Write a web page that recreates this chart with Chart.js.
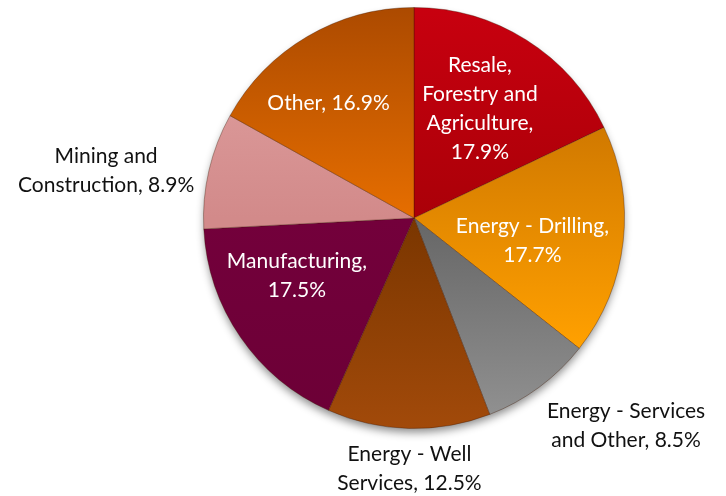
<!DOCTYPE html>
<html>
<head>
<meta charset="utf-8">
<script src="https://cdn.jsdelivr.net/npm/chart.js@4/dist/chart.umd.min.js"></script>
<style>
  html, body { margin: 0; padding: 0; background: #ffffff; }
  #wrap { width: 726px; height: 496px; position: relative; }
</style>
</head>
<body>
<div id="wrap"><canvas id="c" width="726" height="496"></canvas></div>
<script>
// ---- data ----
const categories = [
  "Resale, Forestry and Agriculture",
  "Energy - Drilling",
  "Energy - Services and Other",
  "Energy - Well Services",
  "Manufacturing",
  "Mining and Construction",
  "Other"
];
const shares = [17.9, 17.7, 8.5, 12.5, 17.5, 8.9, 16.9];
const labelLines = [
  ["Resale,", "Forestry and", "Agriculture,", "17.9%"],
  ["Energy - Drilling,", "17.7%"],
  ["Energy - Services", "and Other, 8.5%"],
  ["Energy - Well", "Services, 12.5%"],
  ["Manufacturing,", "17.5%"],
  ["Mining and", "Construction, 8.9%"],
  ["Other, 16.9%"]
];

// ---- styles ----
const gradStops = [
  [[0, "#c8000f"], [0.5, "#aa0008"], [1, "#9a0006"]],
  [[0, "#b86400"], [0.3, "#d27a00"], [0.8, "#ffa000"], [1, "#ffa808"]],
  [[0, "#555555"], [0.5, "#666666"], [1, "#939393"]],
  [[0, "#603000"], [0.5, "#7a3600"], [1, "#a24a0a"]],
  [[0, "#7a0040"], [1, "#6c0036"]],
  [[0, "#e2a4a4"], [0.5, "#d28a8a"], [1, "#d28a8a"]],
  [[0, "#ac4a00"], [0.5, "#e66e00"], [1, "#f27a00"]]
];
const labelPlace = [ // [radius factor, angle shift in degrees]
  [0.607, -1.2], [0.573, 4.6], [1.41, -9.2], [1.19, -0.4],
  [0.62, 8.3], [1.48, -4.3], [0.68, -6.2]
];
const labelInside = [true, true, false, false, true, false, true];
const lineHeight = 29;

function sliceColor(ctx) {
  const chart = ctx.chart;
  const area = chart.chartArea;
  const stops = gradStops[ctx.dataIndex];
  if (!area) return stops[0][1];
  const g = chart.ctx.createLinearGradient(0, area.top, 0, area.bottom);
  stops.forEach(s => g.addColorStop(s[0], s[1]));
  return g;
}

const shadowPlugin = {
  id: "pieShadow",
  beforeDatasetsDraw(chart) {
    const arc = chart.getDatasetMeta(0).data[0];
    if (!arc) return;
    const ctx = chart.ctx;
    ctx.save();
    ctx.shadowColor = "rgba(0,0,0,0.45)";
    ctx.shadowBlur = 8;
    ctx.shadowOffsetY = 5;
    ctx.shadowOffsetX = 0;
    ctx.fillStyle = "#ffffff";
    ctx.beginPath();
    ctx.arc(arc.x, arc.y, arc.outerRadius - 1, 0, Math.PI * 2);
    ctx.fill();
    ctx.restore();
  }
};

const labelPlugin = {
  id: "sliceLabels",
  afterDatasetsDraw(chart) {
    const meta = chart.getDatasetMeta(0);
    const ctx = chart.ctx;
    ctx.save();
    ctx.font = "21px Lato";
    ctx.textAlign = "center";
    ctx.textBaseline = "middle";
    meta.data.forEach((arc, i) => {
      const mid = (arc.startAngle + arc.endAngle) / 2 + labelPlace[i][1] * Math.PI / 180;
      const r = arc.outerRadius * labelPlace[i][0];
      const cx = arc.x + Math.cos(mid) * r;
      const cy = arc.y + Math.sin(mid) * r;
      const lines = labelLines[i];
      ctx.fillStyle = labelInside[i] ? "#ffffff" : "#111111";
      lines.forEach((t, k) => {
        const y = cy + (k - (lines.length - 1) / 2) * lineHeight;
        ctx.fillText(t, cx, y);
      });
    });
    ctx.restore();
  }
};

new Chart(document.getElementById("c"), {
  type: "pie",
  data: {
    labels: categories,
    datasets: [{
      data: shares,
      backgroundColor: sliceColor,
      borderColor: "rgba(60,20,0,0.35)",
      borderWidth: 1
    }]
  },
  options: {
    responsive: false,
    animation: false,
    layout: { padding: { left: 203, right: 101, top: 7, bottom: 67 } },
    plugins: {
      legend: { display: false },
      tooltip: { enabled: false }
    }
  },
  plugins: [shadowPlugin, labelPlugin]
});
</script>
</body>
</html>
